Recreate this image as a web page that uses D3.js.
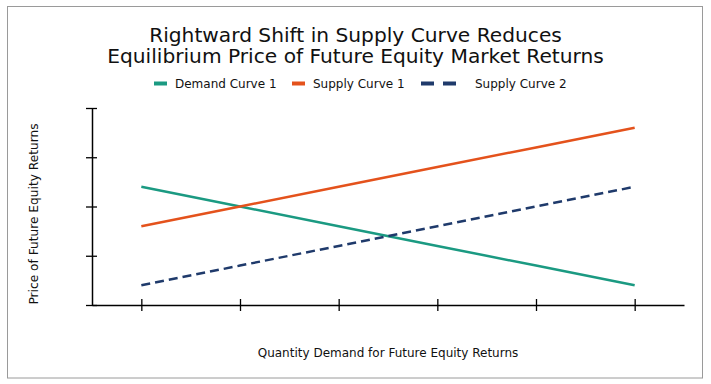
<!DOCTYPE html>
<html lang="en">
<head>
    <meta charset="UTF-8">
    <title>Supply shift</title>
    <script src="https://cdn.jsdelivr.net/npm/d3@7"></script>
    <style>
        body { margin: 0; background: #fff; }
        svg { display: block; font-family: "DejaVu Sans", Verdana, sans-serif; }
    </style>
</head>
<body>
    <script>
        'use strict';

        // data
        var quantities = [1, 2, 3, 4, 5, 6];
        var demand1 = [12, 10, 8, 6, 4, 2];
        var supply1 = [8, 10, 12, 14, 16, 18];
        var supply2 = [2, 4, 6, 8, 10, 12];
        var yTicks = [0, 5, 10, 15, 20];
        var seriesNames = ['Demand Curve 1', 'Supply Curve 1', 'Supply Curve 2'];
        var seriesColors = ['#1b9a82', '#e4521c', '#1f3a6b'];

        var w = 711, h = 384;
        var plotLeft = 92, plotRight = 684, plotTop = 108, plotBottom = 305;

        var svg = d3.select('body').append('svg')
            .attr('width', w)
            .attr('height', h);

        svg.append('rect')
            .attr('x', 7.5).attr('y', 6.5)
            .attr('width', 695).attr('height', 371.5)
            .attr('fill', '#fff')
            .attr('stroke', '#9a9a9a');

        var x = d3.scalePoint()
            .domain(quantities)
            .range([plotLeft, plotRight])
            .padding(0.5);

        var y = d3.scaleLinear()
            .domain([0, 20])
            .range([plotBottom, plotTop]);

        // axes: ticks cross the axis line
        var xAxis = svg.append('g')
            .attr('transform', 'translate(0,' + plotBottom + ')')
            .call(d3.axisBottom(x).tickSize(6).tickSizeOuter(0).tickFormat(''));
        xAxis.selectAll('.tick line').attr('y1', -6).attr('stroke-width', 1.3);
        xAxis.select('.domain').attr('stroke-width', 1.5);

        var yAxis = svg.append('g')
            .attr('transform', 'translate(' + plotLeft + ',0)')
            .call(d3.axisLeft(y).tickValues(yTicks).tickSize(6).tickSizeOuter(0).tickFormat(''));
        yAxis.selectAll('.tick line').attr('x1', -6).attr('x2', 5).attr('stroke-width', 1.3);
        yAxis.select('.domain').attr('stroke-width', 1.5);

        var series = [demand1, supply1, supply2];
        var line = d3.line()
            .x(function(d, i) { return x(quantities[i]); })
            .y(function(d) { return y(d); });

        series.forEach(function(s, i) {
            svg.append('path')
                .datum(s)
                .attr('d', line)
                .attr('fill', 'none')
                .attr('stroke', seriesColors[i])
                .attr('stroke-width', 2.5)
                .attr('stroke-dasharray', i == 2 ? '9,5' : null);
        });

        // title, two lines
        svg.append('text')
            .attr('x', 355.5).attr('y', 41.5)
            .attr('text-anchor', 'middle')
            .attr('font-size', 20.2)
            .attr('fill', '#111')
            .text('Rightward Shift in Supply Curve Reduces');
        svg.append('text')
            .attr('x', 355.5).attr('y', 62.5)
            .attr('text-anchor', 'middle')
            .attr('font-size', 20.2)
            .attr('fill', '#111')
            .text('Equilibrium Price of Future Equity Market Returns');

        // legend
        var legendX = [154, 292, 421];
        var lg = svg.selectAll('.legend')
            .data(seriesNames)
            .enter().append('g')
            .attr('transform', function(d, i) { return 'translate(' + legendX[i] + ',83.5)'; });
        lg.append('line')
            .attr('x1', 0)
            .attr('x2', function(d, i) { return i == 2 ? 36 : 13; })
            .attr('stroke', function(d, i) { return seriesColors[i]; })
            .attr('stroke-width', 4)
            .attr('stroke-dasharray', function(d, i) { return i == 2 ? '13,9' : null; });
        lg.append('text')
            .attr('x', function(d, i) { return i == 2 ? 54 : 21; })
            .attr('dy', '0.35em')
            .attr('font-size', 12)
            .attr('fill', '#111')
            .text(function(d) { return d; });

        // axis titles
        svg.append('text')
            .attr('x', 388).attr('y', 357)
            .attr('text-anchor', 'middle')
            .attr('font-size', 12)
            .attr('fill', '#111')
            .text('Quantity Demand for Future Equity Returns');

        svg.append('text')
            .attr('transform', 'translate(38,214) rotate(-90)')
            .attr('text-anchor', 'middle')
            .attr('font-size', 12.2)
            .attr('fill', '#111')
            .text('Price of Future Equity Returns');
    </script>
</body>
</html>
